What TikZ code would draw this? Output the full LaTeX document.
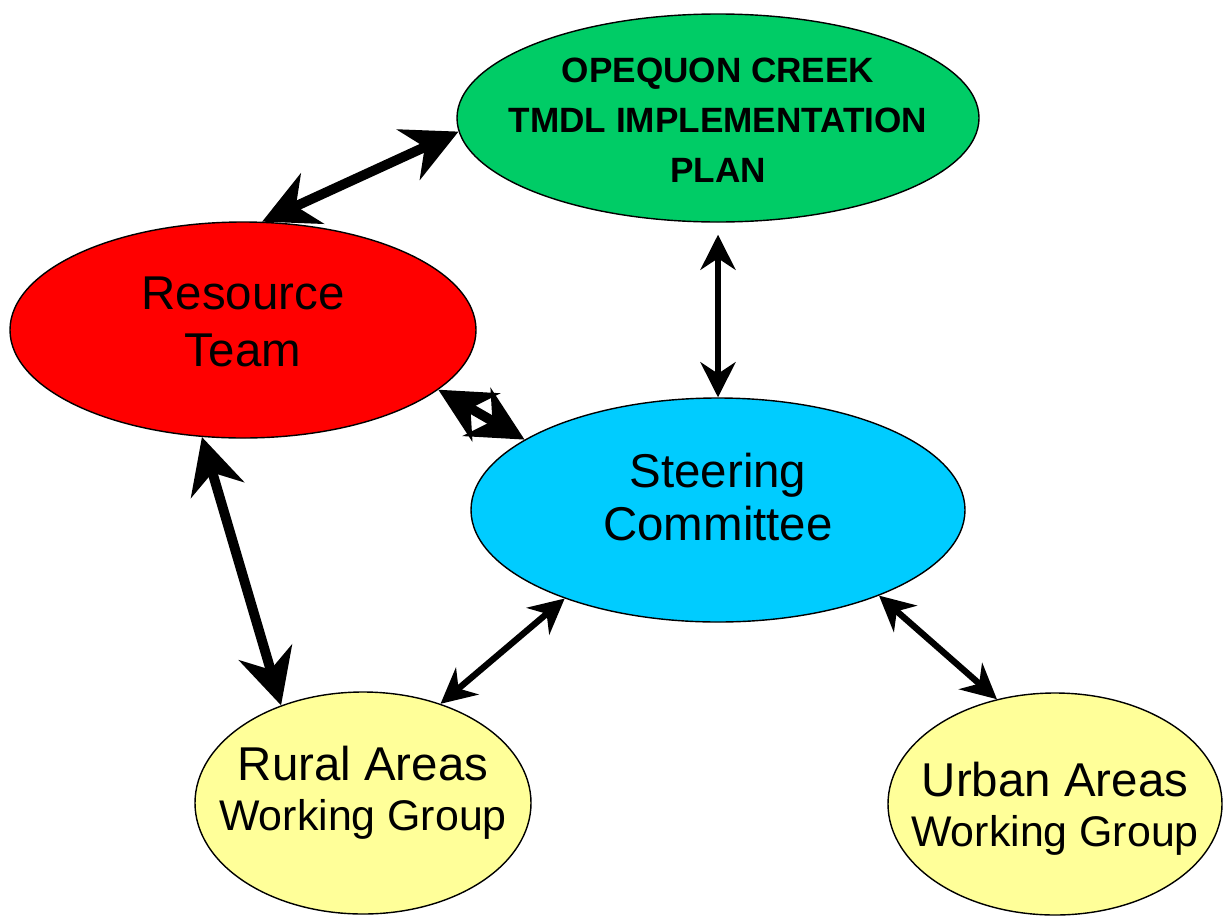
\documentclass[tikz,border=0pt]{standalone}
\usepackage{fontspec}
\setmainfont{Liberation Sans}
\usetikzlibrary{shapes.geometric,arrows.meta}

\definecolor{plangreen}{RGB}{0,204,102}
\definecolor{teamred}{RGB}{255,0,0}
\definecolor{steercyan}{RGB}{0,204,255}
\definecolor{groupyellow}{RGB}{255,255,153}

\begin{document}
\begin{tikzpicture}[
        group/.style={ellipse, draw, line width=0.8pt, inner sep=0pt},
        caption/.style={align=center, inner sep=0pt, font=\fontsize{27}{32}\selectfont},
        small/.style={font=\fontsize{24.4}{28.5}\selectfont},
        arrow/.style={{Stealth[length=0.7cm,width=0.7cm]}-{Stealth[length=0.7cm,width=0.7cm]}, line width=3.6pt},
        bigarrow/.style={{Stealth[length=1.1cm,width=1.1cm]}-{Stealth[length=1.1cm,width=1.1cm]}, line width=5.6pt}
    ]
        \useasboundingbox (0,0) rectangle (24.46,-18.30);

        % the five groups
        \node[group, fill=plangreen, minimum width=10.44cm, minimum height=4.16cm] (plan) at (14.36,-2.36) {};
        \node[group, fill=teamred, minimum width=9.32cm, minimum height=4.32cm] (team) at (4.86,-6.60) {};
        \node[group, fill=steercyan, minimum width=9.88cm, minimum height=4.48cm] (steer) at (14.36,-10.20) {};
        \node[group, fill=groupyellow, minimum width=6.72cm, minimum height=4.44cm] (rural) at (7.26,-16.06) {};
        \node[group, fill=groupyellow, minimum width=6.68cm, minimum height=4.44cm] (urban) at (21.10,-16.08) {};

        % their names
        \node[caption, font=\fontsize{20}{28.5}\selectfont\bfseries] (plantext) at ([yshift=-0.04cm]plan.center)
            {OPEQUON CREEK\\TMDL IMPLEMENTATION\\PLAN};
        \node[caption] (teamtext) at ([yshift=0.16cm]team.center) {Resource\\Team};
        \node[caption, font=\fontsize{27}{30}\selectfont] (steertext) at ([yshift=0.26cm]steer.center) {Steering\\Committee};
        \node[caption, font=\fontsize{27}{28.5}\selectfont] (ruraltext) at ([yshift=0.2cm]rural.center)
            {Rural Areas\\\fontsize{24.4}{28.5}\selectfont Working Group};
        \node[caption, font=\fontsize{27}{28.5}\selectfont] (urbantext) at ([yshift=-0.1cm]urban.center)
            {Urban Areas\\\fontsize{24.4}{28.5}\selectfont Working Group};

        \draw[bigarrow] (team.80) -- (plan.183);
        \draw[arrow, shorten <=0.24cm] (plan.south) -- (steer.north);
        \draw[bigarrow] (team.-17) -- (steer.160);
        \draw[bigarrow] (team.249) -- (rural.130);
        \draw[arrow] (steer.210) -- (rural.52);
        \draw[arrow] (steer.332) -- (urban.119);
    \end{tikzpicture}
\end{document}
